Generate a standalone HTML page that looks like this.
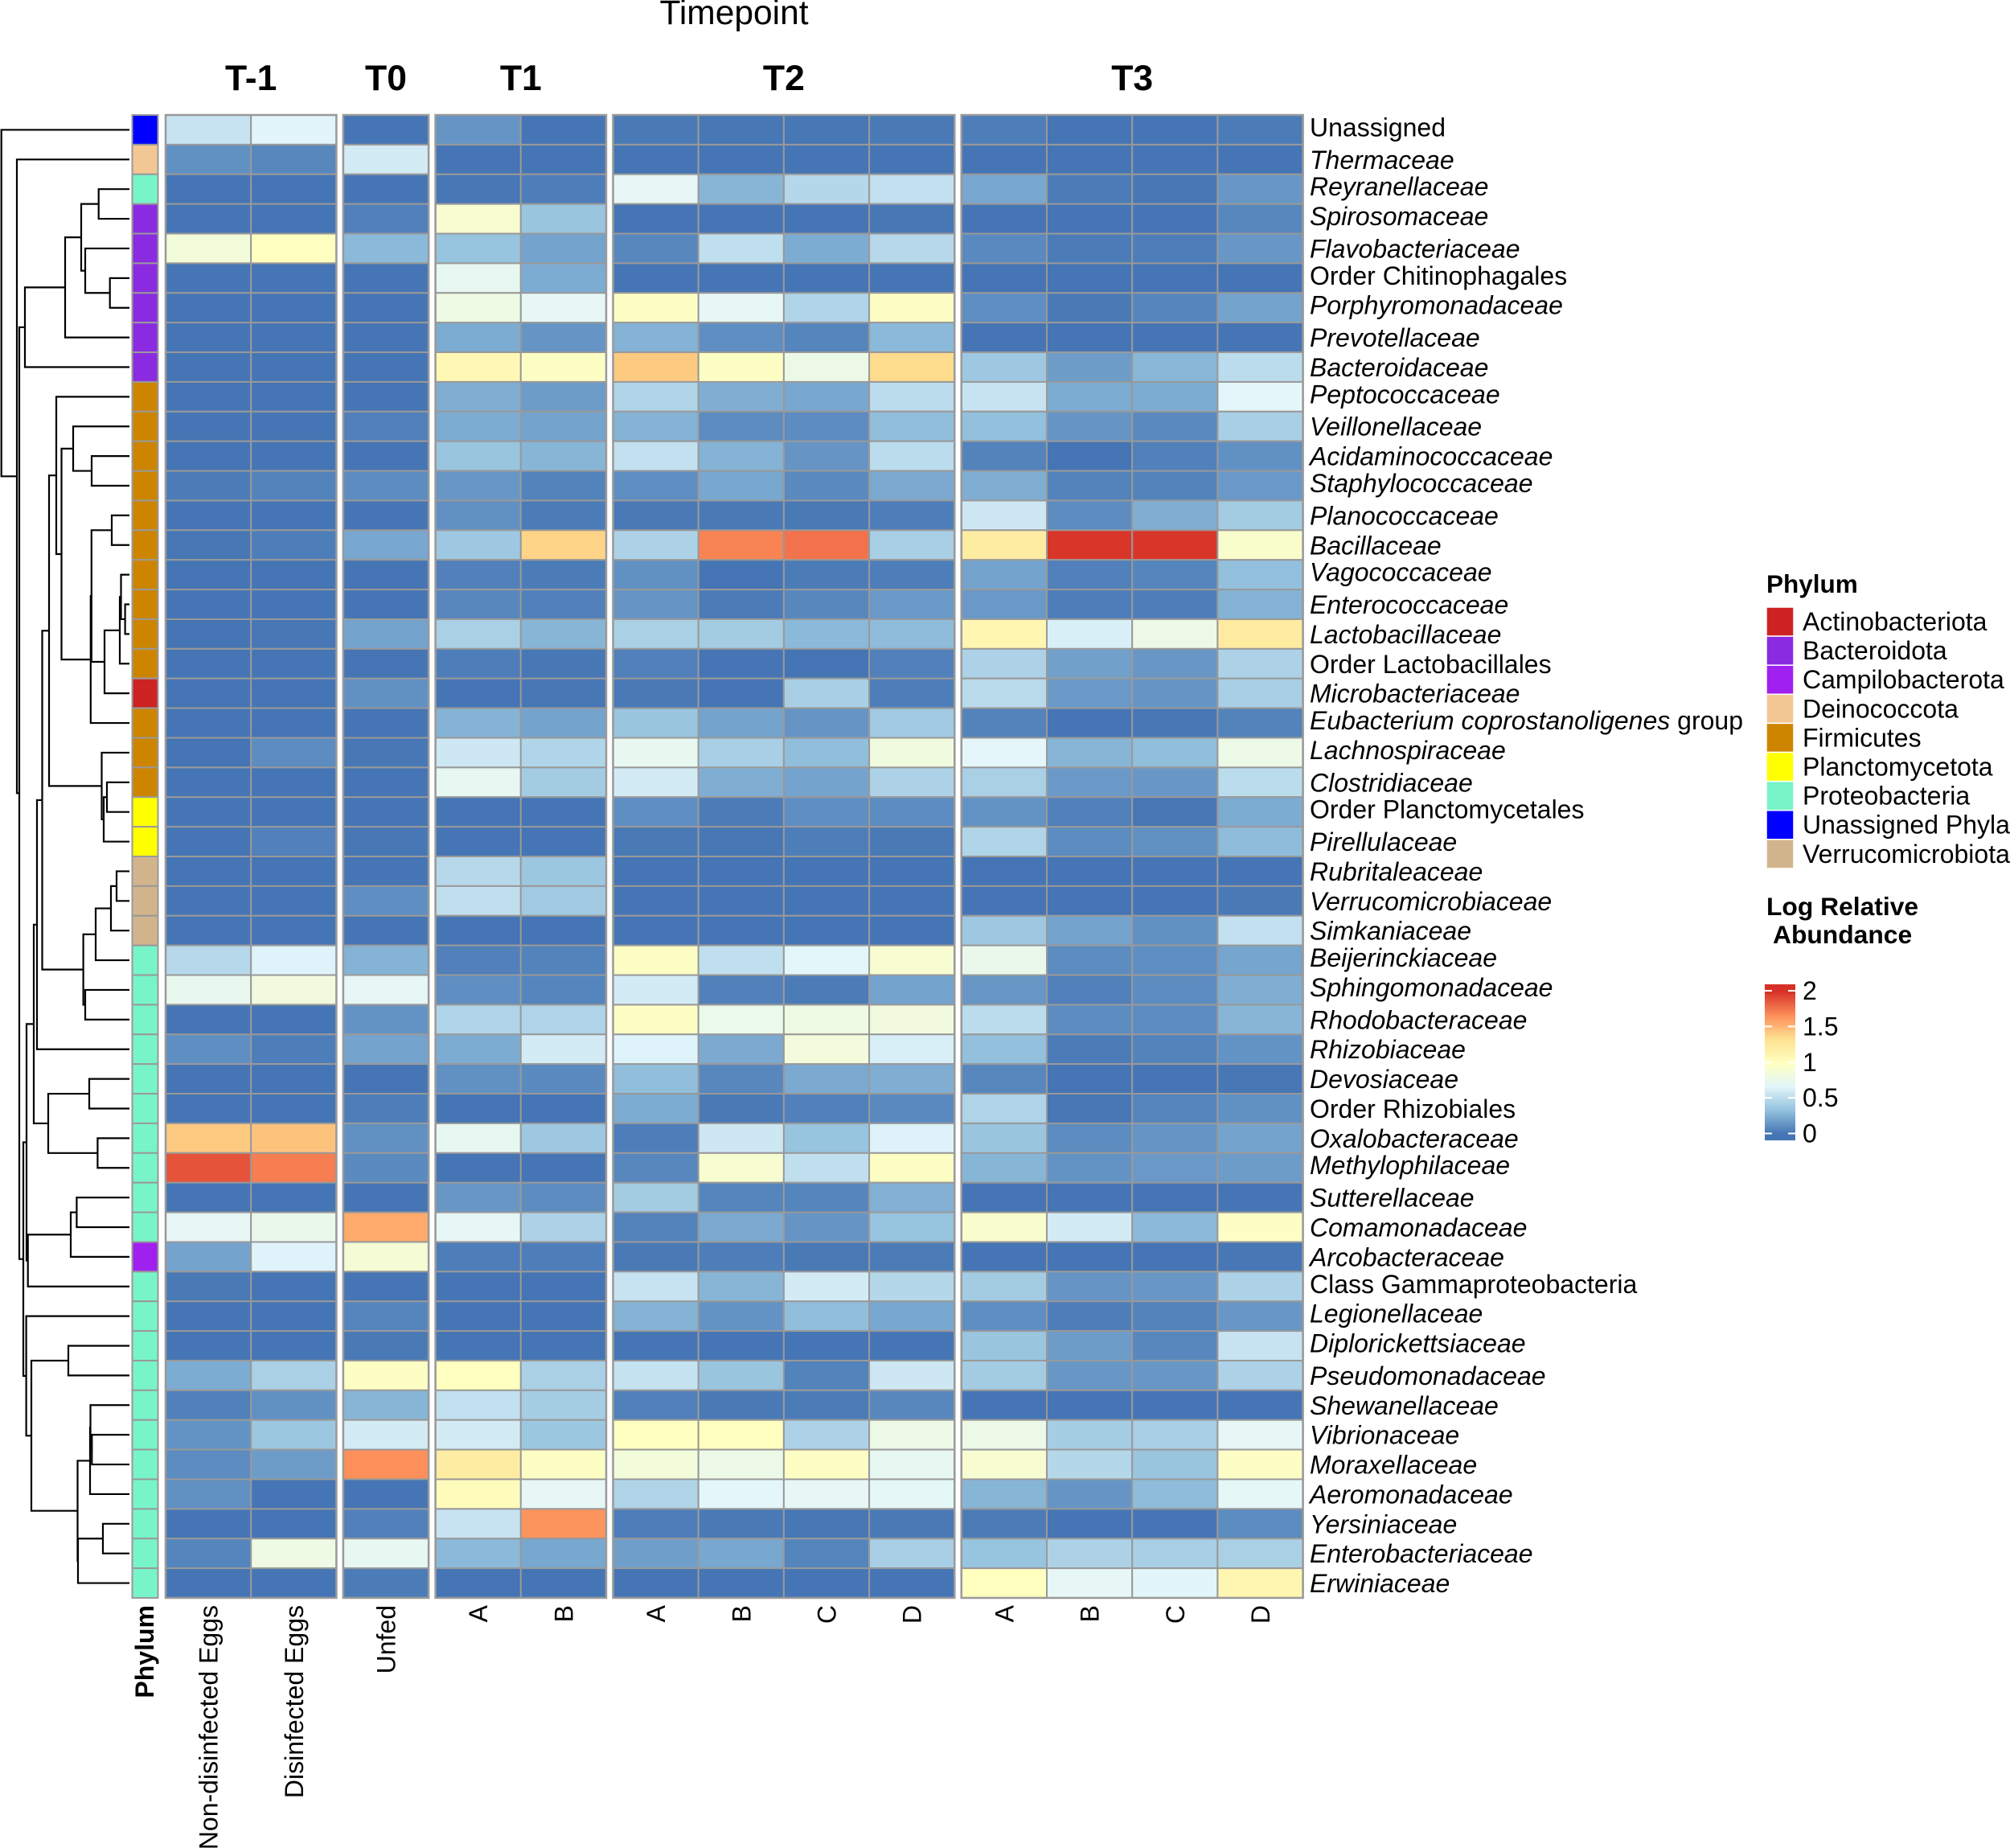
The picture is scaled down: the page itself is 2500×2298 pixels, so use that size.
<!DOCTYPE html>
<html lang="en">
<head>
<meta charset="utf-8">
<title>Timepoint heatmap of log relative abundance</title>
<style>
html,body{margin:0;padding:0;background:#fff;}
svg{display:block;}
text{font-family:"Liberation Sans",sans-serif;fill:#000;}
</style>
</head>
<body>
<svg id="chart" xmlns="http://www.w3.org/2000/svg" width="2500" height="2298" viewBox="0 0 2500 2298">
  <rect x="0" y="0" width="2500" height="2298" fill="#fff"/>
  <text x="913" y="30" font-size="42.5" text-anchor="middle">Timepoint</text>
  <g id="dendrogram" fill="none" stroke="#000" stroke-width="2.2"></g>
  <g id="annotation"></g>
  <g id="panels"></g>
  <g id="rowlabels"></g>
  <text font-size="32" font-weight="bold" text-anchor="end" transform="translate(191,1996) rotate(-90)">Phylum</text>
  <text x="2197" y="737" font-size="31.5" font-weight="bold">Phylum</text>
  <g id="phylumlegend"></g>
  <text x="2197" y="1138" font-size="31.8" font-weight="bold">Log Relative</text>
  <text x="2205" y="1173" font-size="31.8" font-weight="bold">Abundance</text>
  <g id="colorbar"></g>
</svg>
<script>
// ---- Data arrays ----
const rowLabels = ["Unassigned","Thermaceae","Reyranellaceae","Spirosomaceae","Flavobacteriaceae","Order Chitinophagales","Porphyromonadaceae","Prevotellaceae","Bacteroidaceae","Peptococcaceae","Veillonellaceae","Acidaminococcaceae","Staphylococcaceae","Planococcaceae","Bacillaceae","Vagococcaceae","Enterococcaceae","Lactobacillaceae","Order Lactobacillales","Microbacteriaceae","Eubacterium coprostanoligenes group","Lachnospiraceae","Clostridiaceae","Order Planctomycetales","Pirellulaceae","Rubritaleaceae","Verrucomicrobiaceae","Simkaniaceae","Beijerinckiaceae","Sphingomonadaceae","Rhodobacteraceae","Rhizobiaceae","Devosiaceae","Order Rhizobiales","Oxalobacteraceae","Methylophilaceae","Sutterellaceae","Comamonadaceae","Arcobacteraceae","Class Gammaproteobacteria","Legionellaceae","Diplorickettsiaceae","Pseudomonadaceae","Shewanellaceae","Vibrionaceae","Moraxellaceae","Aeromonadaceae","Yersiniaceae","Enterobacteriaceae","Erwiniaceae"];

const phylumNames = ["Actinobacteriota","Bacteroidota","Campilobacterota","Deinococcota","Firmicutes","Planctomycetota","Proteobacteria","Unassigned Phyla","Verrucomicrobiota"];
const phylumColors = ["#CD2323","#8A2BE2","#A020F0","#F3C794","#CD8500","#FFFF00","#78F5C8","#0000FF","#D2B48C"];
// phylum index for each row, top to bottom
const rowPhylum = [7,3,6,1,1,1,1,1,1,4,4,4,4,4,4,4,4,4,4,0,4,4,4,5,5,8,8,8,6,6,6,6,6,6,6,6,6,6,2,6,6,6,6,6,6,6,6,6,6,6];

const panelNames = ["T-1","T0","T1","T2","T3"];
const panelColumns = [["Non-disinfected Eggs","Disinfected Eggs"],["Unfed"],["A","B"],["A","B","C","D"],["A","B","C","D"]];

// one row per taxon; 13 columns: T-1 (2), T0 (1), T1 (2), T2 (4), T3 (4)
const heatValues = [
[.55,.66,0,.14,0,.02,.01,.01,.02,.04,0,0,.03],
[.12,.08,.6,0,0,0,0,0,0,0,0,0,0],
[0,0,0,.01,.04,.7,.28,.47,.53,.22,.03,.01,.15],
[0,0,.05,.9,.36,0,0,0,.01,0,0,0,.08],
[.85,1,.3,.35,.2,.08,.52,.24,.48,.09,.03,.04,.15],
[0,0,0,.72,.24,0,0,0,0,0,0,0,0],
[0,0,0,.8,.7,.98,.7,.45,.98,.11,.02,.07,.2],
[0,0,0,.24,.14,.27,.11,.07,.3,0,0,0,0],
[0,0,0,1.08,.97,1.42,.97,.78,1.35,.38,.17,.29,.5],
[0,0,0,.25,.17,.45,.25,.22,.5,.55,.24,.24,.68],
[0,0,.05,.24,.2,.27,.1,.1,.32,.33,.14,.09,.42],
[0,0,0,.36,.28,.53,.27,.14,.5,.06,0,.05,.12],
[.03,.06,.1,.15,.06,.11,.22,.09,.23,.25,.06,.06,.16],
[0,0,0,.12,.03,.02,.02,.02,.04,.58,.1,.25,.4],
[.01,.04,.22,.38,1.38,.44,1.7,1.76,.42,1.2,1.98,1.98,.93],
[0,0,0,.05,.03,.12,0,.03,.04,.2,.05,.07,.33],
[0,0,0,.08,.05,.14,.03,.08,.16,.16,.04,.04,.27],
[0,.01,.2,.43,.28,.43,.4,.3,.31,1.1,.62,.78,1.22],
[0,0,0,.04,.01,.05,0,0,.05,.44,.19,.15,.44],
[0,0,.12,0,.01,.02,0,.42,.04,.49,.16,.14,.42],
[0,0,0,.27,.2,.36,.2,.14,.39,.06,0,.01,.06],
[0,.1,.01,.58,.46,.73,.42,.32,.82,.68,.28,.32,.78],
[0,0,0,.72,.4,.6,.25,.2,.44,.43,.16,.15,.5],
[0,0,0,0,0,.11,.03,.11,.1,.13,.05,.01,.24],
[0,.05,.01,0,0,.02,.01,.04,.02,.46,.1,.12,.31],
[0,0,0,.48,.37,0,0,0,0,0,0,0,0],
[0,0,.11,.52,.39,0,0,0,0,0,0,0,.02],
[0,0,0,0,0,0,0,0,0,.38,.2,.12,.53],
[.48,.65,.27,.05,.06,.98,.52,.67,.9,.75,.1,.11,.21],
[.74,.83,.7,.11,.07,.6,.05,.03,.2,.15,.05,.1,.25],
[0,0,.13,.45,.45,.98,.76,.8,.83,.5,.1,.1,.28],
[.11,.04,.2,.24,.6,.65,.23,.84,.62,.33,.03,.06,.13],
[0,0,0,.12,.09,.32,.08,.23,.25,.08,0,0,.01],
[0,0,.04,0,0,.24,.02,.05,.09,.45,.01,.07,.12],
[1.42,1.45,.12,.72,.38,.04,.58,.35,.64,.36,.1,.14,.2],
[1.87,1.72,.09,0,0,.08,.9,.52,.98,.28,.13,.16,.17],
[0,0,0,.15,.1,.4,.07,.07,.26,0,0,0,0],
[.7,.75,1.55,.7,.44,.06,.23,.14,.35,.92,.6,.3,.96],
[.2,.65,.88,.04,.04,.02,.04,.02,.03,0,0,0,.01],
[.02,0,0,0,0,.55,.28,.6,.47,.4,.14,.15,.44],
[0,0,.07,0,0,.27,.13,.32,.22,.11,.04,.06,.15],
[0,0,.02,0,0,0,0,0,0,.36,.17,.08,.55],
[.24,.43,.97,1,.43,.54,.36,.06,.58,.4,.15,.15,.44],
[.05,.12,.28,.53,.41,.05,.02,.03,.08,0,0,0,0],
[.13,.37,.6,.6,.37,1,1,.44,.78,.78,.41,.42,.7],
[.1,.17,1.66,1.2,.97,.85,.78,.98,.72,.9,.47,.36,.96],
[.12,0,0,1.03,.7,.45,.68,.7,.69,.28,.14,.31,.69],
[0,0,.05,.55,1.64,.04,.02,.01,.02,.03,0,0,.1],
[.07,.8,.72,.3,.22,.18,.22,.07,.42,.35,.44,.42,.43],
[0,0,.03,0,0,0,0,0,0,1,.7,.66,1.1]
];

// hclust-style merges: [childA, childB, height]; negative = leaf row (1-based), positive = earlier merge (1-based)
const dendroMerges = [
[-3,-4,38.3],[-6,-7,24.3],[-5,2,55],[1,3,60],[4,-8,80],[5,-9,130],
[-12,-13,47],[-11,7,70],[-14,-15,22],[-17,-18,5.4],[-16,10,10.5],[11,-19,12],
[12,-20,31],[9,13,47.2],[14,-21,48.2],[8,15,84.5],[-10,16,91],[-23,-24,28],
[18,-25,32],[-22,19,34.5],[17,20,100],[-26,-27,16],[22,-28,23],[23,-29,42],
[-30,-31,55],[24,25,57.4],[21,26,108.5],[27,-32,115],[-33,-34,50],[-35,-36,39.6],
[29,30,101],[28,31,119],[-37,-38,65.6],[33,-39,73],[34,-40,126.3],[32,35,128],
[-42,-43,76],[-45,-46,46.7],[-44,38,48.5],[39,-47,49],[-48,-49,33],[41,-50,64],
[40,42,64.5],[37,43,122],[-41,44,128.4],[36,45,132],[6,46,137],[-2,47,140],[-1,48,159.3]
];

const colorStops = ["#4575B4","#93C1DD","#E3F6FB","#FFFFBF","#FEE090","#FC8D59","#D73027"];
const colorTicks = [0,0.5,1,1.5,2];
const colorTickLabels = ["0","0.5","1","1.5","2"];

// ---- Scales ----
const SVGNS = "http://www.w3.org/2000/svg";
const rowTop = 143, rowH = 36.88, cellW = 106.2, panelGap = 8.5, panelStart = 206;
function rowY(i){ return rowTop + i * rowH; }
function rowCenter(i){ return rowTop + (i + 0.5) * rowH; }
function dendroX(h){ return 161 - h; }
function barY(v){ return 1409.5 - v * 88.75; }
function hexRgb(h){ return [1,3,5].map(function(k){ return parseInt(h.substr(k,2),16); }); }
function valueColor(v){
  const t = Math.max(0, Math.min(1, v / 2)) * (colorStops.length - 1);
  const i = Math.min(colorStops.length - 2, Math.floor(t));
  const a = hexRgb(colorStops[i]), b = hexRgb(colorStops[i+1]), f = t - i;
  return "rgb(" + a.map(function(c,k){ return Math.round(c + (b[k]-c)*f); }).join(",") + ")";
}
function mk(tag, attrs, parent){
  const el = document.createElementNS(SVGNS, tag);
  for (const k in attrs) el.setAttribute(k, attrs[k]);
  parent.appendChild(el);
  return el;
}
function hasDescender(s){ return /[gjpqy]/.test(s); }
function slug(s){ return s.toLowerCase().replace(/[^a-z0-9]+/g,"-").replace(/^-|-$/g,""); }

// ---- Dendrogram ----
(function(){
  const g = document.getElementById("dendrogram");
  const nodes = [];
  function pos(id){
    if (id < 0) return {x: dendroX(0), y: rowCenter(-id - 1)};
    return nodes[id - 1];
  }
  dendroMerges.forEach(function(m, idx){
    const a = pos(m[0]), b = pos(m[1]), x = dendroX(m[2]);
    const p = mk("path", {d: "M" + a.x + " " + a.y + "H" + x + "V" + b.y + "H" + b.x}, g);
    
    
    nodes.push({x: x, y: (a.y + b.y) / 2});
  });
})();

// ---- Annotation column ----
(function(){
  const g = document.getElementById("annotation");
  rowPhylum.forEach(function(ph, i){
    const r = mk("rect", {x: 164.5, y: rowY(i), width: 32, height: rowH, fill: phylumColors[ph], stroke: "#999", "stroke-width": 2}, g);
    
    
  });
})();

// ---- Heatmap panels ----
(function(){
  const g = document.getElementById("panels");
  let x = panelStart, col = 0;
  panelNames.forEach(function(name, p){
    const cols = panelColumns[p];
    const pg = mk("g", {}, g);
    
    
    const w = cols.length * cellW;
    const head = mk("text", {x: x + w / 2, y: 112, "font-size": 44.5, "font-weight": "bold", "text-anchor": "middle"}, pg);
    head.textContent = name;
    
    
    cols.forEach(function(cname, c){
      const cx = x + c * cellW;
      heatValues.forEach(function(row, i){
        const r = mk("rect", {x: cx, y: rowY(i), width: cellW, height: rowH, fill: valueColor(row[col]), stroke: "#999", "stroke-width": 2}, pg);
        
        
      });
      const mid = cx + cellW / 2;
      const t = mk("text", {"font-size": 32, "text-anchor": "end", transform: "translate(" + (mid + 11.5) + ",1996) rotate(-90)"}, pg);
      t.textContent = cname;
      
      
      col++;
    });
    const o = mk("rect", {x: x, y: rowTop, width: w, height: rowH * heatValues.length, fill: "none", stroke: "#999", "stroke-width": 2.5}, pg);
    
    
    x += w + panelGap;
  });
})();

// ---- Row labels ----
(function(){
  const g = document.getElementById("rowlabels");
  rowLabels.forEach(function(label, i){
    const off = hasDescender(label) ? 8 : 11.5;
    const t = mk("text", {x: 1629, y: rowCenter(i) + off, "font-size": 32}, g);
    
    
    if (/^(Order|Class|Unassigned)/.test(label)) {
      t.textContent = label;
    } else if (/ group$/.test(label)) {
      const a = mk("tspan", {"font-style": "italic"}, t);
      a.textContent = label.replace(/ group$/, "");
      const b = mk("tspan", {}, t);
      b.textContent = " group";
    } else {
      t.setAttribute("font-style", "italic");
      t.textContent = label;
    }
  });
})();

// ---- Phylum legend ----
(function(){
  const g = document.getElementById("phylumlegend");
  phylumNames.forEach(function(name, i){
    const y = 755 + i * 36.1;
    const r = mk("rect", {x: 2197, y: y, width: 34, height: 36.1, fill: phylumColors[i], stroke: "#fff", "stroke-width": 1.5}, g);
    
    
    const t = mk("text", {x: 2242, y: y + 29, "font-size": 32}, g);
    t.textContent = name;
    
    
  });
})();

// ---- Colour bar ----
(function(){
  const g = document.getElementById("colorbar");
  const steps = 100, lo = -0.09, hi = 2.09;
  for (let i = 0; i < steps; i++) {
    const v0 = lo + (hi - lo) * i / steps, v1 = lo + (hi - lo) * (i + 1) / steps;
    const r = mk("rect", {x: 2195, y: barY(v1), width: 38, height: barY(v0) - barY(v1) + 0.6, fill: valueColor((v0 + v1) / 2)}, g);
    
    
  }
  colorTicks.forEach(function(v, i){
    const y = barY(v);
    const l = mk("rect", {x: 2195, y: y - 1, width: 9, height: 2, fill: "#fff"}, g);
    
    
    const r = mk("rect", {x: 2224, y: y - 1, width: 9, height: 2, fill: "#fff"}, g);
    
    
    const t = mk("text", {x: 2242, y: y + 11, "font-size": 32}, g);
    t.textContent = colorTickLabels[i];
    
    
  });
})();
</script>
</body>
</html>
